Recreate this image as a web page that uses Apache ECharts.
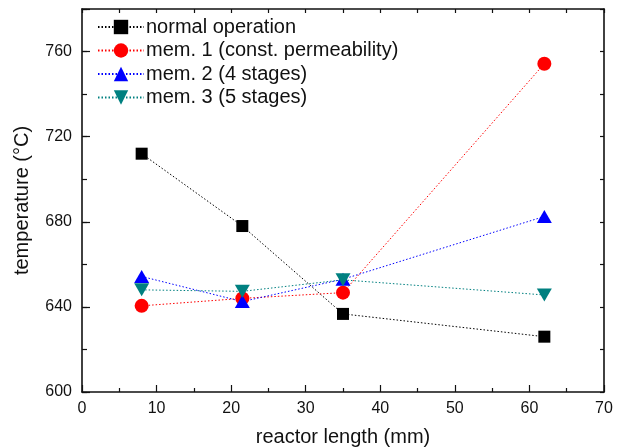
<!DOCTYPE html>
<html>
<head>
<meta charset="utf-8">
<script src="https://cdn.jsdelivr.net/npm/echarts@6/dist/echarts.min.js"></script>
<style>html,body{margin:0;padding:0;background:#fff}#c{width:622px;height:447px}</style>
</head>
<body>
<div id="c"></div>
<script>
const xValues = [8, 21.5, 35, 62];
const seriesNames = ['normal operation', 'mem. 1 (const. permeability)', 'mem. 2 (4 stages)', 'mem. 3 (5 stages)'];
const normalOp = [712, 678, 636.7, 626];
const mem1 = [640.5, 644, 646.7, 754.3];
const mem2 = [654.3, 642.5, 653, 682.5];
const mem3 = [648, 647.3, 652.7, 645.6];
const yLabelTicks = [600, 640, 680, 720, 760];

const font = '"Liberation Sans", Arial, Helvetica, sans-serif';
const axisColor = '#111';

function pairs(ys) { return xValues.map((x, i) => [x, ys[i]]); }

function mkSeries(name, ys, color, symbol, size, rotate) {
  return {
    name: name, type: 'line', data: pairs(ys),
    symbol: symbol, symbolSize: size, symbolRotate: rotate || 0,
    itemStyle: { color: color },
    lineStyle: { color: color, width: 1, type: [1.5, 2] },
    z: 3
  };
}

const chart = echarts.init(document.getElementById('c'), null, { renderer: 'canvas' });
chart.setOption({
  animation: false,
  backgroundColor: '#fff',
  grid: { left: 82, right: 18, top: 9, bottom: 55, containLabel: false, outerBoundsMode: 'none' },
  legend: {
    orient: 'vertical', left: 92, top: 12, itemGap: 3.5,
    itemWidth: 46, itemHeight: 18,
    textStyle: { fontFamily: font, fontSize: 20, color: '#111', padding: [0, 0, 0, -3] },
    data: seriesNames
  },
  xAxis: [
    {
      type: 'value', position: 'bottom', min: 0, max: 70, interval: 10,
      axisLine: { lineStyle: { color: axisColor, width: 1.6 } },
      axisTick: { inside: true, length: 7, lineStyle: { color: axisColor, width: 1.2 } },
      minorTick: { show: true, splitNumber: 2, length: 4, lineStyle: { color: axisColor, width: 1.2 } },
      axisLabel: { fontFamily: font, fontSize: 16, color: '#111', margin: 9 },
      splitLine: { show: false },
      name: 'reactor length (mm)', nameLocation: 'middle', nameGap: 35,
      nameTextStyle: { fontFamily: font, fontSize: 20, color: '#111' }
    },
    {
      type: 'value', position: 'top', min: 0, max: 70, interval: 5,
      axisLine: { show: true, lineStyle: { color: axisColor, width: 1.6 } },
      axisTick: { inside: true, length: 4, lineStyle: { color: axisColor, width: 1.2 } },
      axisLabel: { show: false }, splitLine: { show: false }
    }
  ],
  yAxis: [
    {
      type: 'value', position: 'left', min: 600, max: 780, interval: 40,
      axisLine: { show: true, lineStyle: { color: axisColor, width: 1.6 } },
      axisTick: { show: true, inside: true, length: 8, lineStyle: { color: axisColor, width: 1.2 } },
      axisLabel: { fontFamily: font, fontSize: 16, color: '#111', margin: 10,
        formatter: v => yLabelTicks.indexOf(v) >= 0 ? String(v) : '' },
      splitLine: { show: false },
      name: 'temperature (°C)', nameLocation: 'middle', nameGap: 50,
      nameTextStyle: { fontFamily: font, fontSize: 20, color: '#111' }
    },
    {
      type: 'value', position: 'left', min: 600, max: 780, interval: 20,
      axisLine: { show: false },
      axisTick: { show: true, inside: true, length: 5, lineStyle: { color: axisColor, width: 1.2 } },
      axisLabel: { show: false }, splitLine: { show: false }
    },
    {
      type: 'value', position: 'right', min: 600, max: 780, interval: 20,
      axisLine: { show: true, lineStyle: { color: axisColor, width: 1.6 } },
      axisTick: { show: true, inside: true, length: 4, lineStyle: { color: axisColor, width: 1.2 } },
      axisLabel: { show: false }, splitLine: { show: false }
    }
  ],
  series: [
    mkSeries(seriesNames[0], normalOp, '#000000', 'rect', 12),
    mkSeries(seriesNames[1], mem1, '#ff0000', 'circle', 14),
    mkSeries(seriesNames[2], mem2, '#0000ff', 'triangle', [15, 13]),
    mkSeries(seriesNames[3], mem3, '#008080', 'triangle', [15, 13], 180)
  ]
});
</script>
</body>
</html>
